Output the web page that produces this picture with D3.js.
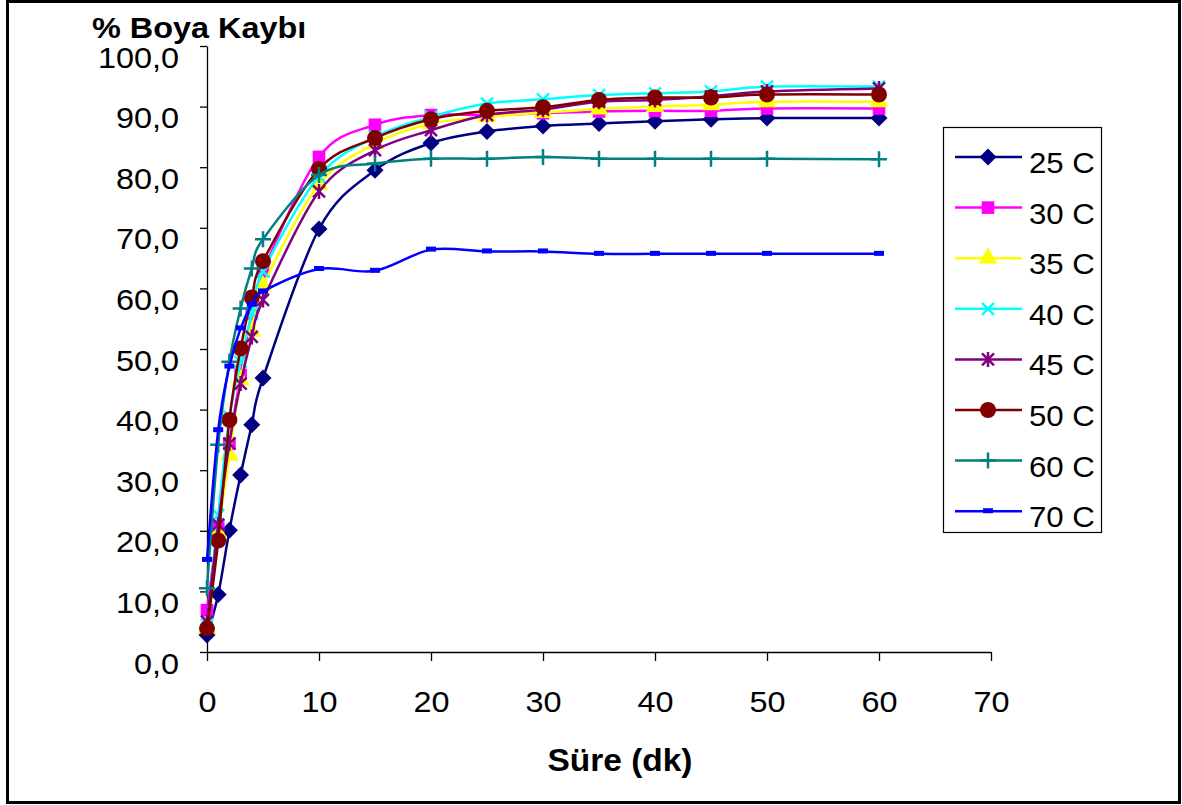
<!DOCTYPE html>
<html>
<head>
<meta charset="utf-8">
<script src="https://cdn.jsdelivr.net/npm/d3@7"></script>
<style>
body { margin: 0; background: #fff; }
svg text { font-family: Arial, "Liberation Sans", sans-serif; }
</style>
</head>
<body>
<script>
// veri
var times = [0, 1, 2, 3, 4, 5, 10, 15, 20, 25, 30, 35, 40, 45, 50, 60];
var c25 = [2.8, 9.5, 20.1, 29.2, 37.5, 45.2, 69.8, 79.5, 84.0, 85.9, 86.8, 87.2, 87.6, 87.9, 88.1, 88.1];
var c30 = [6.9, 20.7, 34.4, 45.7, 55.9, 62.8, 81.7, 87.0, 88.6, 88.6, 88.9, 89.2, 89.3, 89.3, 89.7, 89.7];
var c35 = [4.0, 19.6, 32.5, 44.9, 52.9, 60.4, 77.1, 83.9, 87.2, 88.3, 89.0, 89.6, 90.0, 90.3, 90.8, 90.8];
var c40 = [4.5, 22.6, 38.8, 47.9, 55.9, 62.8, 78.5, 85.0, 88.3, 90.5, 91.2, 91.9, 92.2, 92.5, 93.3, 93.3];
var c45 = [5.0, 21.0, 34.4, 44.3, 52.0, 58.1, 76.0, 82.8, 86.1, 88.6, 89.5, 90.8, 91.1, 91.7, 92.5, 93.0];
var c50 = [3.9, 18.4, 38.3, 50.1, 58.5, 64.5, 79.7, 84.8, 87.9, 89.3, 89.9, 91.1, 91.5, 91.5, 92.0, 92.0];
var c60 = [10.5, 34.2, 47.9, 56.7, 63.3, 68.1, 78.7, 80.6, 81.4, 81.4, 81.7, 81.4, 81.4, 81.4, 81.4, 81.3];
var c70 = [15.2, 36.6, 47.1, 53.4, 57.3, 59.5, 63.2, 62.9, 66.4, 66.1, 66.1, 65.7, 65.7, 65.7, 65.7, 65.7];
var names = ["25 C", "30 C", "35 C", "40 C", "45 C", "50 C", "60 C", "70 C"];
var colors = ["#000080", "#ff00ff", "#ffff00", "#00ffff", "#800080", "#800000", "#008080", "#0000ff"];
var markers = ["diamond", "square", "triangle", "x", "asterisk", "circle", "plus", "dash"];
var xTicks = [0, 10, 20, 30, 40, 50, 60, 70];
var yTicks = [0, 10, 20, 30, 40, 50, 60, 70, 80, 90, 100];

var series = [c25, c30, c35, c40, c45, c50, c60, c70].map(function(v, i) {
	return { name: names[i], color: colors[i], marker: markers[i],
		pts: times.map(function(t, j) { return [t, v[j]]; }) };
});

var W = 1182, H = 805;
var stretch = 1.08; // resim yatayda biraz gerilmis

var svg = d3.select("body").append("svg")
	.attr("width", W)
	.attr("height", H);

svg.append("rect")
	.attr("x", 7.5).attr("y", 1.5)
	.attr("width", 1172).attr("height", 801)
	.attr("fill", "#fff")
	.attr("stroke", "#000")
	.attr("stroke-width", 3);

var x = d3.scaleLinear().domain([0, 70]).range([207, 991]);
var y = d3.scaleLinear().domain([0, 100]).range([652, 46]);

// eksenler
var gy = svg.append("g")
	.attr("transform", "translate(" + x(0) + ",0)")
	.call(d3.axisLeft(y).tickValues(yTicks).tickSize(7).tickSizeOuter(0)
		.tickFormat(function(d) { return d.toFixed(1).replace(".", ","); }));
gy.selectAll("text")
	.attr("x", null).attr("dy", null)
	.attr("transform", "translate(-28,21) scale(" + stretch + ",1)")
	.attr("font-size", "30px")
	.attr("font-family", "Arial, 'Liberation Sans', sans-serif")
	.attr("fill", "#000");

var gx = svg.append("g")
	.attr("transform", "translate(0," + y(0) + ")")
	.call(d3.axisBottom(x).tickValues(xTicks).tickSize(9).tickSizeOuter(0));
gx.selectAll("text")
	.attr("y", null).attr("dy", null)
	.attr("transform", "translate(0,60) scale(" + stretch + ",1)")
	.attr("font-size", "30px")
	.attr("font-family", "Arial, 'Liberation Sans', sans-serif")
	.attr("fill", "#000");
svg.selectAll(".domain, .tick line").attr("stroke", "#000").attr("stroke-width", 1.3);

function label(str, tx, ty, size, anchor) {
	svg.append("text")
		.attr("transform", "translate(" + tx + "," + ty + ") scale(" + stretch + ",1)")
		.attr("text-anchor", anchor)
		.attr("font-size", size + "px")
		.attr("font-weight", "bold")
		.text(str);
}
label("% Boya Kaybı", 92, 38, 30, "start");
label("Süre (dk)", 620, 771, 31, "middle");

// isaretler
function strokePath(type, r) {
	var p = d3.path();
	if (type != "plus") {
		p.moveTo(-r, -r); p.lineTo(r, r);
		p.moveTo(-r, r); p.lineTo(r, -r);
	}
	if (type != "x") {
		var q = type == "plus" ? r : r * 1.25;
		p.moveTo(0, -q); p.lineTo(0, q);
		if (type == "plus") { p.moveTo(-q, 0); p.lineTo(q, 0); }
	}
	return p.toString();
}

function drawMarker(g, type, color, cx, cy) {
	if (type == "diamond") {
		g.append("path").attr("d", d3.symbol(d3.symbolSquare, 144)())
			.attr("transform", "translate(" + cx + "," + cy + ") rotate(45)")
			.attr("fill", color);
	} else if (type == "square") {
		g.append("path").attr("d", d3.symbol(d3.symbolSquare, 160)())
			.attr("transform", "translate(" + cx + "," + cy + ")")
			.attr("fill", color);
	} else if (type == "triangle") {
		g.append("path").attr("d", d3.symbol(d3.symbolTriangle, 150)())
			.attr("transform", "translate(" + cx + "," + cy + ")")
			.attr("fill", color);
	} else if (type == "circle") {
		g.append("circle").attr("cx", cx).attr("cy", cy).attr("r", 8)
			.attr("fill", color);
	} else if (type == "dash") {
		g.append("rect").attr("x", cx - 5).attr("y", cy - 3).attr("width", 10).attr("height", 5)
			.attr("fill", color);
	} else {
		g.append("path").attr("d", strokePath(type, type == "plus" ? 8 : 6))
			.attr("transform", "translate(" + cx + "," + cy + ")")
			.attr("fill", "none")
			.attr("stroke", color)
			.attr("stroke-width", 2.5);
	}
}

var line = d3.line()
	.x(function(d) { return x(d[0]); })
	.y(function(d) { return y(d[1]); })
	.curve(d3.curveCardinal.tension(0));

series.forEach(function(s) {
	var g = svg.append("g");
	g.append("path")
		.attr("d", line(s.pts))
		.attr("fill", "none")
		.attr("stroke", s.color)
		.attr("stroke-width", 2.5);
	s.pts.forEach(function(p) { drawMarker(g, s.marker, s.color, x(p[0]), y(p[1])); });
});

// lejant
var leg = svg.append("g");
leg.append("rect")
	.attr("x", 943.5).attr("y", 127.5)
	.attr("width", 158).attr("height", 405)
	.attr("fill", "#fff")
	.attr("stroke", "#000")
	.attr("stroke-width", 1.2);
series.forEach(function(s, i) {
	var ly = 157 + i * 50.6;
	leg.append("line")
		.attr("x1", 955).attr("x2", 1022)
		.attr("y1", ly).attr("y2", ly)
		.attr("stroke", s.color)
		.attr("stroke-width", 2.5);
	drawMarker(leg, s.marker, s.color, 988, ly);
	leg.append("text")
		.attr("transform", "translate(1029," + (ly + 16) + ") scale(1.04,1)")
		.attr("font-size", "30px")
		.text(s.name);
});
</script>
</body>
</html>
